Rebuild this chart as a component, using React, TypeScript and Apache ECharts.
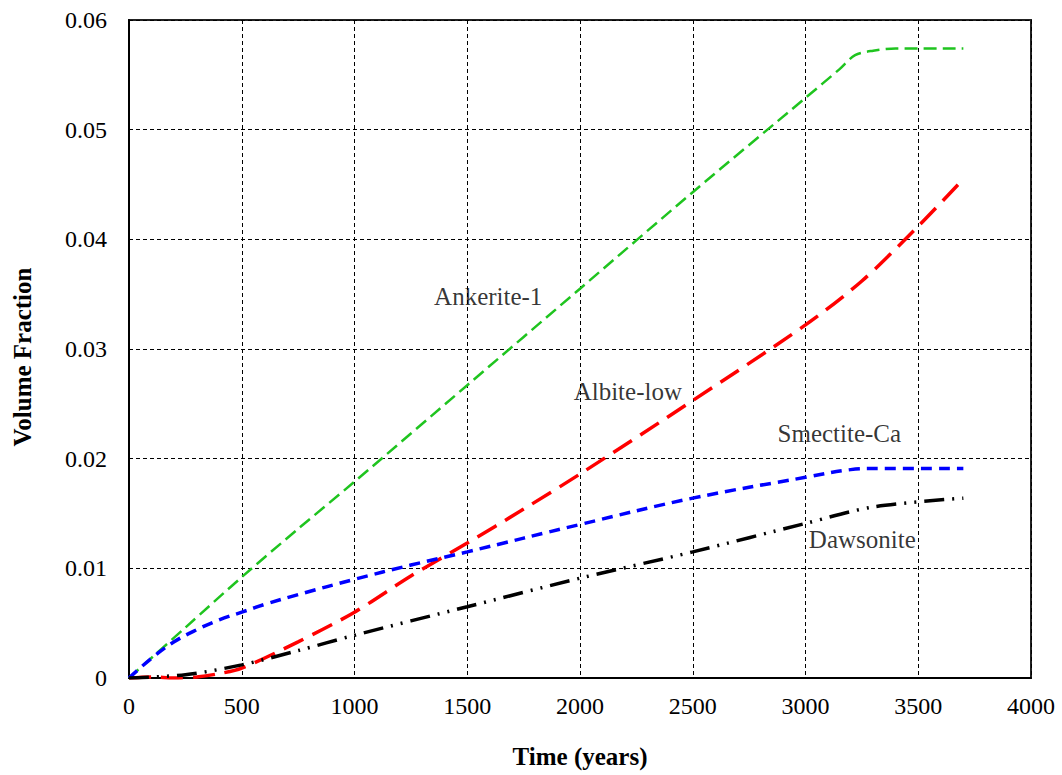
import React, { useEffect, useRef } from "react";
import * as echarts from "echarts";

const xTicks = [0, 500, 1000, 1500, 2000, 2500, 3000, 3500, 4000];
const yTicks = [0, 0.01, 0.02, 0.03, 0.04, 0.05, 0.06];

const ankeriteT = [0, 250, 500, 750, 1000, 1500, 2000, 2500, 3000, 3150, 3220, 3300, 3400, 3700];
const ankeriteV = [0, 0.0046, 0.0092, 0.0136, 0.0179, 0.0267, 0.0355, 0.0443, 0.0529, 0.0555, 0.0568, 0.0572, 0.0574, 0.0574];

const albiteT = [0, 100, 200, 300, 400, 500, 750, 1000, 1250, 1500, 1750, 2000, 2500, 3000, 3250, 3500, 3700];
const albiteV = [0, 0.0001, 0.0, 0.0001, 0.0004, 0.0009, 0.0033, 0.006, 0.0093, 0.0123, 0.0154, 0.0186, 0.0253, 0.0322, 0.0362, 0.0412, 0.0455];

const smectiteT = [0, 100, 200, 300, 400, 500, 600, 750, 1000, 1250, 1500, 2000, 2500, 3000, 3200, 3300, 3700];
const smectiteV = [0, 0.0018, 0.0033, 0.0044, 0.0053, 0.006, 0.0067, 0.0076, 0.009, 0.0103, 0.0115, 0.014, 0.0164, 0.0183, 0.019, 0.0191, 0.0191];

const dawsoniteT = [0, 250, 500, 750, 1000, 1500, 2000, 2500, 3000, 3300, 3700];
const dawsoniteV = [0, 0.0003, 0.0012, 0.0025, 0.0039, 0.0065, 0.0091, 0.0115, 0.0141, 0.0156, 0.0164];

const labelNames = ["Ankerite-1", "Albite-low", "Smectite-Ca", "Dawsonite"];
const labelT = [1593, 2212, 3150, 3252];
const labelV = [0.0348, 0.0261, 0.0223, 0.0126];

const zip = (t: number[], v: number[]) => t.map((x, i) => [x, v[i]]);

const FONT = "Liberation Serif";

export default function App() {
  const ref = useRef<HTMLDivElement>(null);
  useEffect(() => {
    const chart = echarts.init(ref.current!, null, { renderer: "svg" });
    const gridLine = { show: true, lineStyle: { color: "#000", width: 1, type: [4, 3] as any } };
    chart.setOption({
      animation: false,
      backgroundColor: "#fff",
      grid: { left: 129, right: 31, top: 20, bottom: 97, show: true, borderColor: "#222", borderWidth: 2 },
      xAxis: {
        type: "value",
        min: 0,
        max: 4000,
        interval: 500,
        name: "Time (years)",
        nameLocation: "middle",
        nameGap: 66,
        nameTextStyle: { fontFamily: FONT, fontSize: 25, fontWeight: "bold", color: "#000", verticalAlign: "top" },
        axisLine: { show: true, lineStyle: { color: "#000", width: 2 } },
        axisTick: { show: false },
        axisLabel: { fontFamily: FONT, fontSize: 24, color: "#000", margin: 16, formatter: (v: number) => String(v) },
        splitLine: gridLine,
      },
      yAxis: {
        type: "value",
        min: 0,
        max: 0.06,
        interval: 0.01,
        name: "Volume Fraction",
        nameLocation: "middle",
        nameGap: 94,
        nameTextStyle: { fontFamily: FONT, fontSize: 25, fontWeight: "bold", color: "#000", padding: [0, 16, 0, 0] },
        axisLine: { show: true, lineStyle: { color: "#000", width: 2 } },
        axisTick: { show: false },
        axisLabel: {
          fontFamily: FONT,
          fontSize: 24,
          color: "#000",
          margin: 22,
          formatter: (v: number) => (v === 0 ? "0" : v.toFixed(2)),
        },
        splitLine: gridLine,
      },
      series: [
        {
          type: "line",
          name: "Ankerite-1",
          data: zip(ankeriteT, ankeriteV),
          showSymbol: false,
          smooth: 0.3,
          lineStyle: { color: "#1fc41f", width: 2.5, type: [13, 6] },
        },
        {
          type: "line",
          name: "Albite-low",
          data: zip(albiteT, albiteV),
          showSymbol: false,
          smooth: 0.3,
          lineStyle: { color: "#ff0000", width: 3.5, type: [22, 10] },
        },
        {
          type: "line",
          name: "Smectite-Ca",
          data: zip(smectiteT, smectiteV),
          showSymbol: false,
          smooth: 0.4,
          lineStyle: { color: "#0000ff", width: 3.5, type: [11, 7] },
        },
        {
          type: "line",
          name: "Dawsonite",
          data: zip(dawsoniteT, dawsoniteV),
          showSymbol: false,
          smooth: 0.3,
          lineStyle: { color: "#000", width: 3.5, type: [20, 8, 2, 8, 2, 8] },
        },
        {
          type: "scatter",
          name: "labels",
          symbolSize: 0,
          data: labelNames.map((n, i) => ({ name: n, value: [labelT[i], labelV[i]] })),
          label: {
            show: true,
            position: "inside",
            formatter: (p: any) => p.name,
            fontFamily: FONT,
            fontSize: 25,
            color: "#000",
          },
          z: 10,
        },
      ],
    });
    return () => chart.dispose();
  }, []);
  return <div ref={ref} style={{ width: 1062, height: 775, position: "absolute", left: 0, top: 0 }} />;
}
